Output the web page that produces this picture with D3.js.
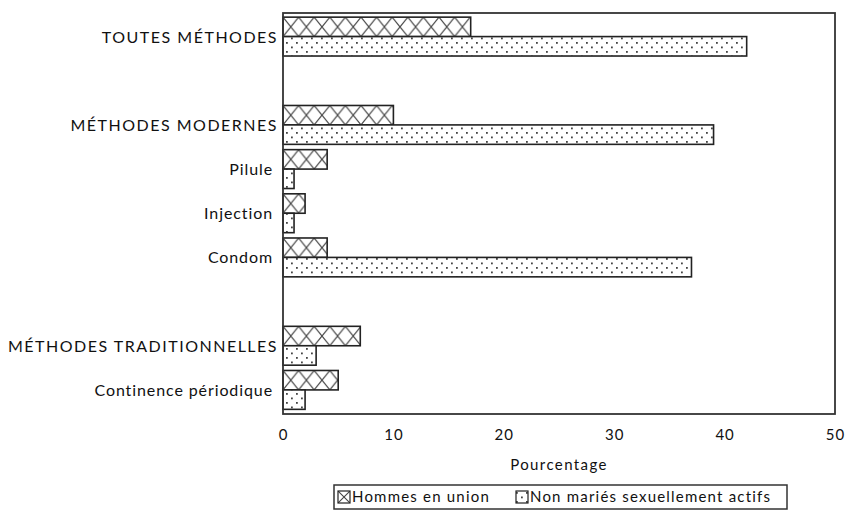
<!DOCTYPE html>
<html>
<head>
<meta charset="utf-8">
<script src="https://cdn.jsdelivr.net/npm/d3@7"></script>
<style>
  body { margin: 0; background: #fff; }
  svg { display: block; }
  text { font-family: "Lato", "DejaVu Sans", sans-serif; fill: #111; }
</style>
</head>
<body>
<svg id="chart" width="845" height="510"></svg>
<script>
// ---- data ----
const categories = [
  "TOUTES MÉTHODES", "", "MÉTHODES MODERNES", "Pilule", "Injection", "Condom",
  " ", "MÉTHODES TRADITIONNELLES", "Continence périodique"
];
const hommesEnUnion = [17, null, 10, 4, 2, 4, null, 7, 5];
const nonMaries     = [42, null, 39, 1, 1, 37, null, 3, 2];
const seriesNames = ["Hommes en union", "Non mariés sexuellement actifs"];
const xTicks = [0, 10, 20, 30, 40, 50];
const xLabel = "Pourcentage";

(function () {
// ---- layout ----
const svg = d3.select("#chart");
const mLeft = 283, mRight = 835, mTop = 13, mBottom = 414;

const x = d3.scaleLinear().domain([0, 50]).range([mLeft, mRight]);
const y = d3.scaleBand().domain(categories).range([mTop + 1.5, mBottom - 2]).paddingInner(0.12).paddingOuter(0.06);
const sub = d3.scaleBand().domain([0, 1]).range([0, y.bandwidth()]);

const defs = svg.append("defs");
// dotted pattern
const dot = defs.append("pattern").attr("id", "dots").attr("patternUnits", "userSpaceOnUse")
  .attr("width", 10).attr("height", 9);
dot.append("rect").attr("width", 10).attr("height", 9).attr("fill", "#fff");
dot.append("rect").attr("x", 1).attr("y", 1.5).attr("width", 1.8).attr("height", 1.8).attr("fill", "#444");
dot.append("rect").attr("x", 6).attr("y", 6).attr("width", 1.8).attr("height", 1.8).attr("fill", "#444");

function crossPattern(id, px, py, w, h) {
  const p = defs.append("pattern").attr("id", id).attr("patternUnits", "userSpaceOnUse")
    .attr("x", px).attr("y", py).attr("width", w).attr("height", h);
  p.append("rect").attr("width", w).attr("height", h).attr("fill", "#fff");
  p.append("path").attr("d", `M0,0L${w},${h}M${w},0L0,${h}`)
    .attr("stroke", "#444").attr("stroke-width", 1.1).attr("fill", "none");
}

const rows = categories.map((c, i) => ({ c, h: hommesEnUnion[i], n: nonMaries[i], i }))
  .filter(d => d.h != null);

const g = svg.append("g");
rows.forEach(d => {
  const y0 = y(d.c) + sub(0), bh = sub.bandwidth();
  crossPattern("cross" + d.i, x(0), y0, 15.6, bh);
  g.append("rect").attr("x", x(0)).attr("y", y0)
    .attr("width", x(d.h) - x(0)).attr("height", bh)
    .attr("fill", `url(#cross${d.i})`).attr("stroke", "#222").attr("stroke-width", 1.6);
  g.append("rect").attr("x", x(0)).attr("y", y(d.c) + sub(1))
    .attr("width", x(d.n) - x(0)).attr("height", bh)
    .attr("fill", "url(#dots)").attr("stroke", "#222").attr("stroke-width", 1.6);
});

// frame
svg.append("rect").attr("x", mLeft).attr("y", mTop).attr("width", mRight - mLeft).attr("height", mBottom - mTop)
  .attr("fill", "none").attr("stroke", "#333").attr("stroke-width", 1.8);

// category labels
svg.append("g").selectAll("text").data(categories.filter(c => c.trim() !== "")).join("text")
  .attr("x", c => c === c.toUpperCase() ? mLeft - 5 : mLeft - 10)
  .attr("y", c => y(c) + y.bandwidth() / 2 + 2)
  .attr("text-anchor", "end").attr("dominant-baseline", "middle")
  .attr("font-size", 16)
  .attr("letter-spacing", c => c === c.toUpperCase() ? 1.5 : 0.9)
  .text(c => c);

// x axis
const ax = svg.append("g").attr("transform", `translate(0,${mBottom + 12})`)
  .call(d3.axisBottom(x).tickValues(xTicks).tickSize(0).tickFormat(d3.format("d")));
ax.select(".domain").remove();
ax.selectAll("text").attr("font-size", 15).attr("letter-spacing", 1)
  .attr("font-family", "Lato, sans-serif").attr("fill", "#111");

svg.append("text").attr("x", (mLeft + mRight) / 2).attr("y", 466).attr("text-anchor", "middle")
  .attr("dominant-baseline", "middle").attr("font-size", 15).attr("letter-spacing", 1.4).text(xLabel);

// legend
const lg = svg.append("g");
lg.append("rect").attr("x", 334).attr("y", 485).attr("width", 453).attr("height", 24)
  .attr("fill", "none").attr("stroke", "#333").attr("stroke-width", 1.5);
crossPattern("crossLeg", 338, 491, 12, 12);
lg.append("rect").attr("x", 338).attr("y", 491).attr("width", 12).attr("height", 12)
  .attr("fill", "url(#crossLeg)").attr("stroke", "#222").attr("stroke-width", 1.2);
lg.append("text").attr("x", 352).attr("y", 498).attr("dominant-baseline", "middle")
  .attr("font-size", 15).attr("letter-spacing", 1.2).text(seriesNames[0]);
lg.append("rect").attr("x", 516).attr("y", 491).attr("width", 12).attr("height", 12)
  .attr("fill", "url(#dots)").attr("stroke", "#222").attr("stroke-width", 1.2);
lg.append("text").attr("x", 530).attr("y", 498).attr("dominant-baseline", "middle")
  .attr("font-size", 15).attr("letter-spacing", 1.2).text(seriesNames[1]);
})();
</script>
</body>
</html>
